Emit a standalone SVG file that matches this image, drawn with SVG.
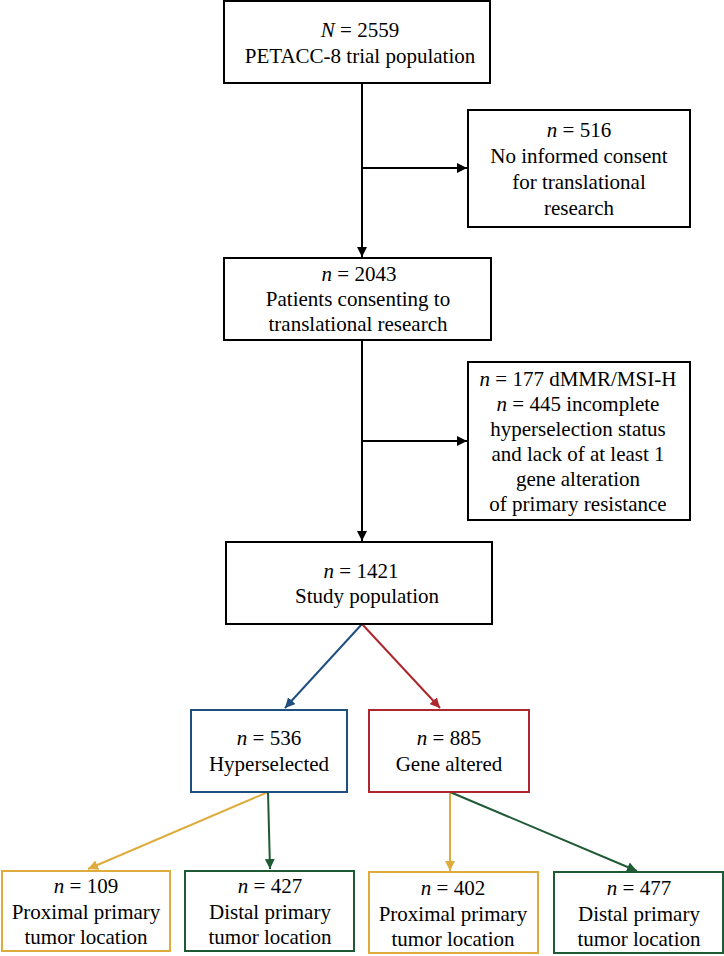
<svg xmlns="http://www.w3.org/2000/svg" width="724" height="956" viewBox="0 0 724 956">
<defs>
<style>
.i{font-style:italic}
rect{fill:#fff;stroke-width:2}
.k{stroke:#000}
.b{stroke:#1f4e80}
.r{stroke:#ad272c}
.y{stroke:#deac3c}
.g{stroke:#1e5b34}
line{stroke-width:2;fill:none}
</style>
<marker id="ak" viewBox="0 0 10 10" refX="10" refY="5" markerWidth="5" markerHeight="5" orient="auto" markerUnits="strokeWidth"><path d="M0,0L10,5L0,10z" fill="#000"/></marker>
<marker id="ab" viewBox="0 0 10 10" refX="10" refY="5" markerWidth="5" markerHeight="5" orient="auto" markerUnits="strokeWidth"><path d="M0,0L10,5L0,10z" fill="#1f4e80"/></marker>
<marker id="ar" viewBox="0 0 10 10" refX="10" refY="5" markerWidth="5" markerHeight="5" orient="auto" markerUnits="strokeWidth"><path d="M0,0L10,5L0,10z" fill="#ad272c"/></marker>
<marker id="ay" viewBox="0 0 10 10" refX="10" refY="5" markerWidth="5" markerHeight="5" orient="auto" markerUnits="strokeWidth"><path d="M0,0L10,5L0,10z" fill="#deac3c"/></marker>
<marker id="ag" viewBox="0 0 10 10" refX="10" refY="5" markerWidth="5" markerHeight="5" orient="auto" markerUnits="strokeWidth"><path d="M0,0L10,5L0,10z" fill="#1e5b34"/></marker>
</defs>
<rect width="724" height="956" fill="#fff" stroke="none"/>
<g id="connectors">
<line x1="362" y1="83" x2="362" y2="257" stroke="#000" marker-end="url(#ak)"/>
<line x1="362" y1="168" x2="467" y2="168" stroke="#000" marker-end="url(#ak)"/>
<line x1="362" y1="340" x2="362" y2="541" stroke="#000" marker-end="url(#ak)"/>
<line x1="362" y1="441" x2="467" y2="441" stroke="#000" marker-end="url(#ak)"/>
<line x1="362" y1="624" x2="285" y2="708" stroke="#1f4e80" marker-end="url(#ab)"/>
<line x1="362" y1="624" x2="440" y2="708" stroke="#ad272c" marker-end="url(#ar)"/>
<line x1="268" y1="792" x2="88" y2="869" stroke="#deac3c" marker-end="url(#ay)"/>
<line x1="268" y1="792" x2="270" y2="869" stroke="#1e5b34" marker-end="url(#ag)"/>
<line x1="450" y1="792" x2="450" y2="871" stroke="#deac3c" marker-end="url(#ay)"/>
<line x1="450" y1="792" x2="637" y2="871" stroke="#1e5b34" marker-end="url(#ag)"/>
</g>
<g id="nodes" font-family="Liberation Serif" font-size="21" text-anchor="middle" fill="#000">
<g id="n2559">
<rect class="k" x="224" y="1" width="266" height="82"/>
<text x="360" y="37"><tspan class="i">N</tspan> = 2559</text>
<text x="360" y="63">PETACC-8 trial population</text>
</g>
<g id="n516">
<rect class="k" x="468" y="110" width="222" height="117"/>
<text x="579" y="137"><tspan class="i">n</tspan> = 516</text>
<text x="579" y="163">No informed consent</text>
<text x="579" y="189">for translational</text>
<text x="579" y="215">research</text>
</g>
<g id="n2043">
<rect class="k" x="224" y="258" width="267" height="82"/>
<text x="359" y="281"><tspan class="i">n</tspan> = 2043</text>
<text x="358" y="306">Patients consenting to</text>
<text x="358" y="331">translational research</text>
</g>
<g id="n177">
<rect class="k" x="468" y="362" width="222" height="158"/>
<text x="578" y="386"><tspan class="i">n</tspan> = 177 dMMR/MSI-H</text>
<text x="578" y="411"><tspan class="i">n</tspan> = 445 incomplete</text>
<text x="578" y="436">hyperselection status</text>
<text x="578" y="461">and lack of at least 1</text>
<text x="578" y="486">gene alteration</text>
<text x="578" y="511">of primary resistance</text>
</g>
<g id="n1421">
<rect class="k" x="226" y="542" width="266" height="82"/>
<text x="361" y="578"><tspan class="i">n</tspan> = 1421</text>
<text x="367" y="603">Study population</text>
</g>
<g id="n536">
<rect class="b" x="191" y="710" width="156" height="82"/>
<text x="269" y="745"><tspan class="i">n</tspan> = 536</text>
<text x="269" y="771">Hyperselected</text>
</g>
<g id="n885">
<rect class="r" x="369" y="710" width="160" height="82"/>
<text x="449" y="745"><tspan class="i">n</tspan> = 885</text>
<text x="449" y="771">Gene altered</text>
</g>
<g id="n109">
<rect class="y" x="2" y="871" width="168" height="80"/>
<text x="86" y="893"><tspan class="i">n</tspan> = 109</text>
<text x="86" y="919">Proximal primary</text>
<text x="86" y="944">tumor location</text>
</g>
<g id="n427">
<rect class="g" x="185" y="871" width="169" height="80"/>
<text x="270" y="893"><tspan class="i">n</tspan> = 427</text>
<text x="270" y="919">Distal primary</text>
<text x="270" y="944">tumor location</text>
</g>
<g id="n402">
<rect class="y" x="369" y="872" width="169" height="81"/>
<text x="453" y="895"><tspan class="i">n</tspan> = 402</text>
<text x="453" y="921">Proximal primary</text>
<text x="453" y="946">tumor location</text>
</g>
<g id="n477">
<rect class="g" x="554" y="872" width="169" height="81"/>
<text x="639" y="895"><tspan class="i">n</tspan> = 477</text>
<text x="639" y="921">Distal primary</text>
<text x="639" y="946">tumor location</text>
</g>
</g>
</svg>
